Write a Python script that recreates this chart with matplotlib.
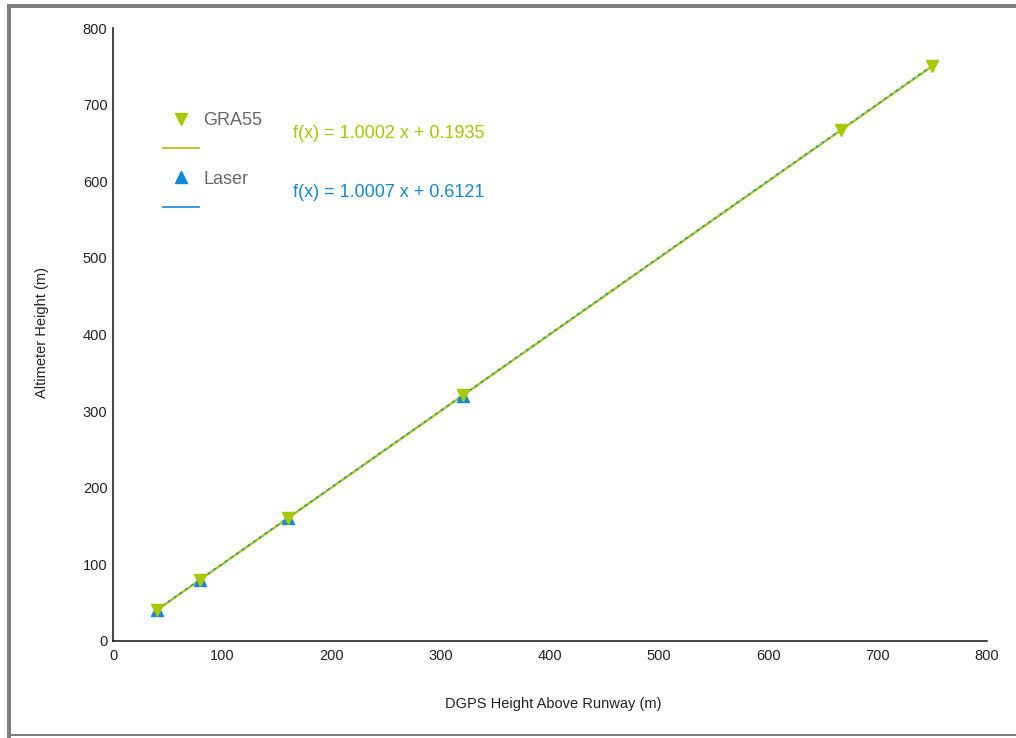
"""
Altimeter height vs DGPS height, with linear fits.
"""

import matplotlib.pyplot as plt
import numpy as np
from matplotlib.lines import Line2D
from matplotlib.patches import Rectangle

plt.rcParams["font.family"] = ["Liberation Sans", "DejaVu Sans"]

# data
dgps_gra55 = [40, 80, 160, 320, 666, 750]
alt_gra55 = [40.5, 80.0, 160.5, 320.5, 666.5, 750.5]
dgps_laser = [40, 80, 160, 320]
alt_laser = [40.0, 80.0, 160.0, 319.5]

fit_gra55 = (1.0002, 0.1935)
fit_laser = (1.0007, 0.6121)
fit_range = [40, 750]

green = "#a6c800"
blue = "#1488d8"

W, H = 1016, 738
fig = plt.figure(figsize=(W / 100, H / 100), dpi=100)

# gray page frame
frame = "#7f7f7f"
fig.add_artist(Rectangle((7 / W, 0), 4 / W, 1 - 4 / H, transform=fig.transFigure, color=frame, lw=0))
fig.add_artist(Rectangle((7 / W, 1 - 8 / H), 1, 4 / H, transform=fig.transFigure, color=frame, lw=0))
fig.add_artist(Rectangle((7 / W, 2 / H), 1, 2 / H, transform=fig.transFigure, color=frame, lw=0))

ax = fig.add_axes([113 / W, 1 - 641 / H, 874 / W, 613 / H])

xs = np.array(fit_range, dtype=float)
ax.plot(xs, fit_gra55[0] * xs + fit_gra55[1], color=green, lw=1.6, zorder=2)
ax.plot(xs, fit_laser[0] * xs + fit_laser[1], color=blue, lw=1.0, ls=(0, (2, 3)), zorder=3)
ax.plot(dgps_laser, alt_laser, ls="none", marker="^", ms=9, color=blue, mec=blue, zorder=4)
ax.plot(dgps_gra55, alt_gra55, ls="none", marker="v", ms=9, color=green, mec=green, zorder=5)

ax.set_xlim(0, 800)
ax.set_ylim(0, 800)
ax.set_xticks(range(0, 801, 100))
ax.set_yticks(range(0, 801, 100))
ax.tick_params(length=0, labelsize=10.5, labelcolor="#222222")
ax.tick_params(axis="x", pad=6)
ax.tick_params(axis="y", pad=4)
for side in ("top", "right"):
    ax.spines[side].set_visible(False)
for side in ("left", "bottom"):
    ax.spines[side].set_linewidth(1.1)
    ax.spines[side].set_color("#111111")

ax.set_xlabel("DGPS Height Above Runway (m)", fontsize=10.5, color="#222222")
ax.xaxis.set_label_coords((553 - 113) / 874, (641 - 704) / 613)
ax.xaxis.label.set_va("center")
ax.set_ylabel("Altimeter Height (m)", fontsize=10.5, color="#222222")
ax.yaxis.set_label_coords((42 - 113) / 874, (641 - 333) / 613)
ax.yaxis.label.set_va("center")

# legend: marker rows and line rows like the original
handles = [
    Line2D([], [], ls="none", marker="v", ms=9, color=green),
    Line2D([], [], color=green, lw=1.2),
    Line2D([], [], ls="none", marker="^", ms=9, color=blue),
    Line2D([], [], color=blue, lw=1.2),
]
labels = ["GRA55", " ", "Laser", " "]
leg = fig.legend(handles, labels, loc="upper left", bbox_to_anchor=(163 / W, 1 - 112 / H),
                 frameon=False, fontsize=13, handlelength=2.0, handletextpad=0.25,
                 labelspacing=0.68, borderpad=0, borderaxespad=0)
for t in leg.get_texts():
    t.set_color("#666666")

fig.text(293 / W, 1 - 134 / H, "f(x) = 1.0002 x + 0.1935", color=green, fontsize=13, va="center")
fig.text(293 / W, 1 - 192 / H, "f(x) = 1.0007 x + 0.6121", color=blue, fontsize=13, va="center")

fig.savefig("out.png", dpi=100)
